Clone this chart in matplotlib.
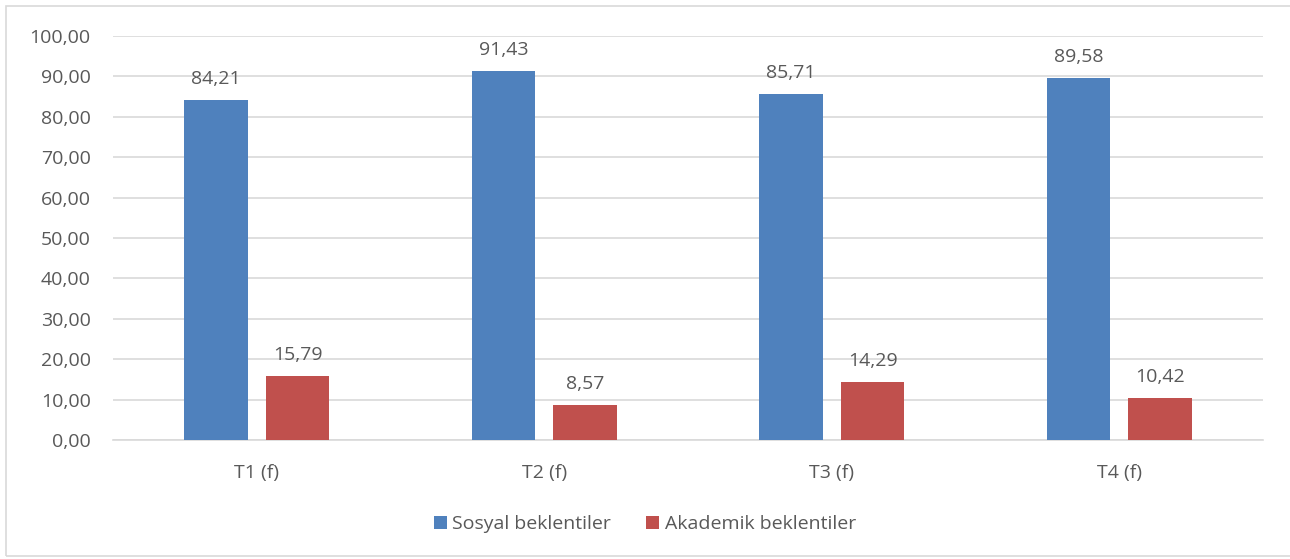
import numpy as np
import matplotlib.pyplot as plt
from matplotlib.patches import Rectangle

# veriler
categories = ['T1 (f)', 'T2 (f)', 'T3 (f)', 'T4 (f)']
sosyal = [84.21, 91.43, 85.71, 89.58]
akademik = [15.79, 8.57, 14.29, 10.42]
series_names = ['Sosyal beklentiler', 'Akademik beklentiler']
yticks = np.arange(0, 101, 10)

plt.rcParams['font.family'] = ['Open Sans', 'DejaVu Sans']
text_color = '#595959'
blue = '#4F81BD'
red = '#C0504D'
fs = 14

fig = plt.figure(figsize=(12.9, 5.59), dpi=100)
ax = fig.add_axes([113/1290, 1 - 440/559, (1263 - 113)/1290, (440 - 36)/559])

x = np.arange(len(categories))
w = 0.222
off = 0.142
b1 = ax.bar(x - off, sosyal, w, color=blue, label=series_names[0], zorder=3)
b2 = ax.bar(x + off, akademik, w, color=red, label=series_names[1], zorder=3)

fmt = lambda v: f'{v:.2f}'.replace('.', ',')
for bars, vals in ((b1, sosyal), (b2, akademik)):
    for b, v in zip(bars, vals):
        ax.text(b.get_x() + b.get_width() / 2, v + 3.0, fmt(v),
                ha='center', va='bottom', fontsize=fs, color=text_color)

ax.set_xlim(-0.5, len(categories) - 0.5)
ax.set_ylim(0, 100)
ax.set_yticks(yticks)
ax.set_yticklabels([fmt(v) for v in yticks])
ax.set_xticks(x)
ax.set_xticklabels(categories)
ax.tick_params(axis='both', length=0, labelsize=fs, labelcolor=text_color)
ax.tick_params(axis='x', pad=17)
ax.tick_params(axis='y', pad=16)
ax.yaxis.grid(True, color='#D9D9D9', linewidth=1.2, zorder=0)
for s in ['top', 'right', 'left']:
    ax.spines[s].set_visible(False)
ax.spines['bottom'].set_color('#D9D9D9')
ax.spines['bottom'].set_linewidth(1.2)

fig.legend(handles=[b1, b2], labels=series_names, loc='center',
           bbox_to_anchor=(0.5, 1 - 524/559), ncol=2, frameon=False,
           fontsize=fs, handlelength=0.65, handleheight=0.65,
           handletextpad=0.3, columnspacing=1.8, labelcolor=text_color)

fig.patches.append(Rectangle((6/1290, 3/559), 1.1, 550/559, transform=fig.transFigure,
                             fill=False, edgecolor='#D9D9D9', linewidth=1.2))

fig.savefig('out.png', dpi=100)
